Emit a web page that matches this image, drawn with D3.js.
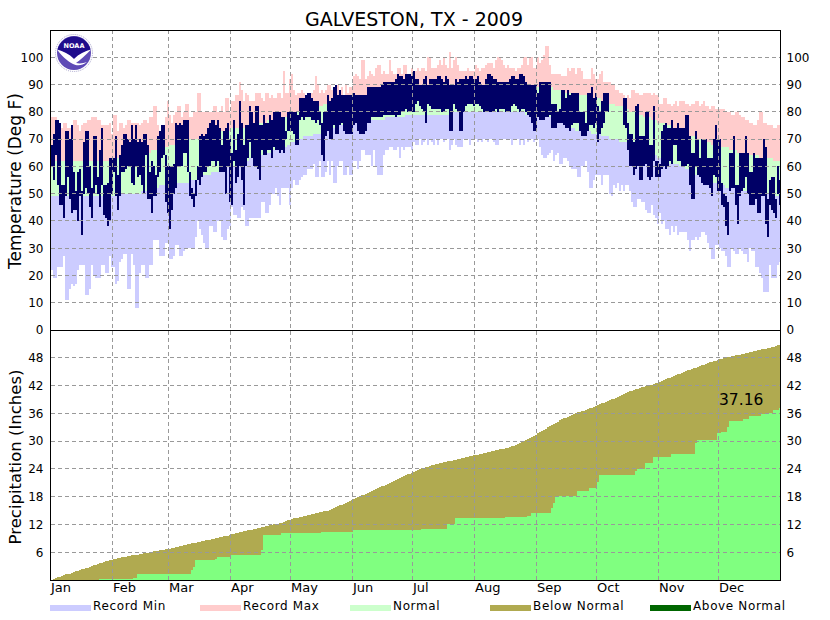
<!DOCTYPE html>
<html>
<head>
<meta charset="utf-8">
<title>Galveston 2009</title>
<style>
body { margin: 0; background: white; }
text { font-family: "DejaVu Sans", sans-serif; fill: #000; }
</style>
</head>
<body>
<script src="https://d3js.org/d3.v7.min.js"></script>
<script>
'use strict'

const monthNames = ["Jan","Feb","Mar","Apr","May","Jun","Jul","Aug","Sep","Oct","Nov","Dec"]
const monthStarts = [0,31,59,90,120,151,181,212,243,273,304,334]
const tempTicks = [0,10,20,30,40,50,60,70,80,90,100]
const precipTicks = [6,12,18,24,30,36,42,48]
const legendNames = ["Record Min","Record Max","Normal","Below Normal","Above Normal"]
const legendColors = ["#ccccff","#ffcccc","#ccffcc","#b0aa50","#006600"]
const legendStarts = [50,200,350,490,650]
const precipTotal = "37.16"

// daily values, one row per month
const recMax = [
  78,78,78,75,74,74,76,76,74,74,75,77,77,75,73,75,76,76,77,77,78,78,78,77,77,75,75,75,75,76,72,
  79,79,73,76,76,74,75,77,77,76,76,76,76,75,76,77,77,76,78,78,82,82,75,73,74,73,78,84,
  79,76,79,80,82,82,78,80,83,83,78,78,80,80,87,87,80,80,80,80,80,80,82,82,80,80,82,80,85,85,80,
  84,84,86,86,91,88,84,87,86,84,84,84,87,87,87,85,84,87,87,85,86,85,85,87,87,85,95,87,87,92,
  94,88,86,87,87,88,87,86,87,86,87,88,93,90,87,88,87,88,90,90,88,86,87,90,88,89,86,90,87,89,89,
  93,94,93,92,99,99,92,93,95,94,93,96,97,97,94,95,94,94,99,95,94,94,96,96,94,97,97,94,94,96,
  95,95,96,95,96,96,95,100,100,96,96,96,97,99,97,100,97,96,102,96,99,100,97,95,95,95,95,96,95,95,95,
  97,96,95,96,96,97,98,98,98,96,99,100,100,99,97,96,97,96,96,96,95,96,96,97,100,100,97,100,100,96,96,
  100,98,99,101,104,104,97,94,94,94,94,94,93,93,93,96,95,96,96,94,96,96,95,92,92,92,92,96,94,92,
  92,94,95,91,91,91,91,90,90,88,88,87,87,86,85,86,85,88,88,87,87,86,86,87,87,87,87,86,87,86,86,
  83,83,85,85,83,83,82,83,84,82,84,84,84,83,83,82,83,83,84,84,82,83,84,82,82,81,82,82,81,81,
  81,81,81,80,80,80,79,79,80,80,79,78,78,77,77,76,76,75,75,77,80,80,76,76,75,75,75,74,74,75,75
]
const recMin = [
  22,19,19,23,23,23,27,11,11,15,17,16,17,22,24,24,24,13,13,15,24,20,19,19,19,24,24,21,21,27,23,
  23,17,18,25,26,28,28,15,15,28,24,8,8,21,24,24,19,19,24,24,33,33,33,27,27,27,32,32,
  26,26,27,31,31,27,27,29,30,30,30,30,30,34,40,37,35,32,30,30,38,38,36,36,40,40,34,33,33,37,38,
  45,42,42,41,41,45,44,38,38,41,41,41,41,41,41,47,47,43,43,46,50,50,52,49,46,52,52,52,52,46,
  52,55,53,53,55,56,57,57,59,59,59,61,56,56,62,56,56,58,62,57,62,54,54,60,62,62,57,57,60,57,57,
  62,62,59,62,66,66,64,64,64,60,66,60,57,57,57,64,66,66,67,67,66,66,67,63,67,66,67,67,67,66,
  69,68,68,70,68,69,70,68,70,69,68,70,68,70,70,69,70,70,66,68,70,68,67,67,67,70,70,70,68,70,70,
  70,69,70,69,70,70,69,70,70,69,68,68,70,70,70,70,70,70,68,70,70,70,68,70,68,70,69,70,70,69,70,
  70,67,64,63,63,64,65,66,62,64,65,61,61,63,63,62,60,59,59,59,56,56,60,60,62,58,52,52,55,57,
  57,57,53,57,57,57,50,49,53,52,54,51,53,51,53,53,51,47,45,45,48,48,47,47,44,43,43,46,42,41,39,
  43,39,40,37,37,35,38,36,38,35,36,36,36,36,33,29,33,33,34,33,34,36,36,35,32,30,26,26,31,31,
  30,29,29,27,23,23,30,29,28,28,30,29,28,28,25,30,29,29,23,23,21,19,14,14,14,24,19,19,19,24,25
]
const normHi = [
  62,62,62,62,62,62,62,62,62,62,62,62,62,62,62,62,62,62,62,62,62,62,62,62,62,62,62,62,62,62,62,
  63,63,63,63,63,63,63,63,63,64,64,64,64,64,64,65,65,65,65,66,66,66,66,66,67,67,67,67,
  68,68,68,68,68,69,69,69,69,69,70,70,70,70,70,70,70,71,71,71,71,72,72,72,72,72,73,73,73,73,73,
  74,74,74,74,74,74,74,75,75,75,75,75,75,76,76,76,76,76,77,77,77,77,77,78,78,78,78,78,78,79,
  79,79,79,80,80,80,80,81,81,81,81,82,82,82,82,82,83,83,83,83,84,84,84,84,84,85,85,85,85,85,85,
  85,85,86,86,86,86,86,86,86,86,86,87,87,87,87,87,87,87,87,87,87,87,88,88,88,88,88,88,88,88,
  88,88,88,88,88,88,88,88,88,88,88,88,88,88,88,89,89,89,89,89,89,89,89,89,89,89,89,89,89,89,89,
  89,89,89,89,89,89,89,89,89,89,89,89,89,89,89,89,89,89,89,89,89,89,89,89,89,89,89,89,89,89,89,
  89,89,89,89,89,89,89,89,88,88,88,88,88,88,87,87,87,87,87,87,86,86,86,86,86,85,85,85,85,85,
  85,85,84,84,84,84,83,83,83,82,82,82,82,81,81,81,80,80,80,80,79,79,79,78,78,78,78,77,77,77,76,
  76,76,76,75,75,75,74,74,74,73,73,73,72,72,72,71,71,71,71,70,70,70,70,69,69,69,68,68,68,68,
  68,67,67,67,67,66,66,66,66,65,65,65,65,65,64,64,64,64,64,64,63,63,63,63,63,63,63,62,62,62,62
]
const normLo = [
  49,49,49,49,49,49,49,49,49,49,49,49,49,49,49,49,49,49,49,49,49,49,49,49,49,49,49,49,49,49,49,
  49,49,49,50,50,50,50,50,50,50,50,50,50,50,51,51,51,51,51,52,52,52,52,53,53,53,53,53,
  54,54,54,54,54,54,54,54,54,54,54,55,55,55,56,56,56,57,57,57,57,58,58,58,58,59,59,59,59,60,60,
  60,60,61,61,61,62,62,62,62,63,63,63,63,64,64,64,64,65,65,65,65,66,66,66,66,67,67,67,68,68,
  69,69,70,70,70,70,71,71,71,71,71,72,72,72,72,72,73,73,73,73,74,74,74,74,75,75,75,75,75,76,76,
  76,76,76,76,76,76,76,76,76,77,77,77,77,77,77,77,78,78,78,78,78,78,78,78,78,78,79,79,79,79,
  79,79,79,79,79,79,79,79,79,79,79,79,79,79,79,79,79,79,79,79,80,80,80,80,80,80,80,80,80,80,80,
  80,80,80,80,80,80,80,80,80,80,80,80,80,80,80,80,80,80,80,80,80,80,80,80,80,79,79,79,79,79,79,
  78,78,78,78,78,78,78,78,77,77,77,76,76,75,75,75,74,74,74,73,73,73,73,73,73,73,73,72,72,72,
  72,72,71,71,71,71,70,70,70,70,70,69,69,69,69,68,68,67,67,67,67,66,66,66,65,65,65,65,64,64,63,
  63,63,62,62,62,61,61,61,61,61,60,60,60,59,59,58,58,58,57,57,57,56,56,55,55,55,54,54,54,54,
  53,53,53,52,52,52,52,52,52,52,51,51,51,51,51,51,51,50,50,50,50,50,50,50,50,49,49,49,49,49,49
]
const obsMax = [
  68,72,77,77,76,53,53,73,73,70,75,58,51,58,59,51,69,73,73,60,52,71,71,56,66,74,53,53,54,63,63,
  63,71,57,64,68,72,72,70,69,75,70,75,69,70,69,72,72,68,58,62,60,57,71,73,75,75,64,60,
  60,60,61,76,75,76,75,77,77,77,58,52,50,55,60,71,72,71,72,74,76,77,77,75,77,74,68,73,74,76,70,
  65,77,66,72,84,76,68,75,75,82,80,76,82,82,75,75,79,76,76,79,77,80,80,80,80,78,78,73,80,80,
  80,80,80,79,85,85,85,86,87,87,85,84,84,84,80,76,80,80,86,84,85,89,90,86,88,86,86,86,86,86,86,
  87,86,86,86,86,86,86,89,89,89,89,89,89,89,90,91,91,91,91,91,91,92,94,93,93,92,94,94,94,93,
  95,92,92,90,90,92,93,90,92,92,92,92,93,93,92,91,93,92,90,90,90,92,91,92,92,92,93,92,93,93,92,
  92,93,91,90,90,92,94,94,93,92,92,91,91,91,91,91,91,92,93,93,92,92,94,94,93,91,90,90,90,90,90,
  87,91,91,91,91,91,91,83,83,83,80,81,88,88,85,88,86,87,87,87,87,80,80,80,76,87,87,89,85,87,
  82,80,84,87,87,87,null,null,null,null,null,null,null,85,85,76,72,72,69,82,83,71,71,71,80,80,68,68,82,62,62,
  61,73,75,76,74,74,77,74,74,76,74,74,74,79,79,71,65,65,73,70,63,70,70,70,63,63,63,70,75,70,
  70,54,50,49,47,65,65,71,53,53,65,65,65,71,65,58,58,65,63,63,63,63,70,67,48,55,56,56,48,60,55
]
const obsMin = [
  60,55,64,53,46,46,41,49,56,48,43,44,44,40,49,35,50,52,50,45,41,50,53,50,45,53,42,41,38,40,50,
  58,49,44,49,58,58,59,60,60,54,53,60,56,57,53,50,64,48,48,43,49,49,56,58,63,64,47,43,
  37,44,50,52,60,60,60,65,65,58,49,48,45,49,55,53,56,58,58,60,60,62,62,60,62,58,58,58,50,60,47,
  46,62,54,56,60,55,46,60,63,69,63,60,60,59,55,66,64,64,66,66,63,67,66,66,65,66,65,70,73,73,
  73,72,68,68,77,78,77,78,78,78,77,77,76,77,75,64,62,71,73,70,70,75,72,72,75,76,73,72,72,72,72,
  75,76,73,72,72,72,73,76,76,78,78,78,78,78,78,79,79,79,79,79,79,78,79,79,80,80,81,80,80,80,
  80,83,84,82,81,80,76,83,82,81,81,81,81,81,80,80,81,81,73,73,83,81,80,73,73,80,82,83,83,83,82,
  83,83,82,81,80,80,80,80,80,80,81,80,81,81,81,80,80,80,82,83,82,81,80,81,81,80,79,78,76,73,73,
  78,77,77,77,78,78,79,74,74,74,76,76,76,75,74,74,73,75,76,76,76,73,71,71,71,73,75,75,74,76,
  69,72,74,76,80,80,null,null,null,null,null,null,null,75,74,66,60,60,57,59,60,55,55,60,61,56,55,56,62,56,56,
  56,59,60,59,60,62,61,68,68,62,62,60,60,60,61,53,48,48,60,57,56,54,53,53,53,52,49,57,56,51,
  51,46,45,38,35,51,52,52,46,39,49,51,52,56,50,46,46,46,48,43,43,49,49,39,34,46,44,43,41,50,46
]
const precipNorm = [
  0.1,0.3,0.4,0.6,0.7,0.9,1.0,1.2,1.3,1.4,1.6,1.7,1.9,2.0,2.2,2.3,2.4,2.6,2.7,2.9,3.0,3.2,3.3,3.4,3.6,3.7,3.9,4.0,4.2,4.3,4.4,
  4.5,4.6,4.7,4.8,4.9,5.0,5.0,5.1,5.2,5.3,5.4,5.4,5.5,5.6,5.7,5.8,5.8,5.9,6.0,6.1,6.2,6.2,6.3,6.4,6.5,6.5,6.6,6.7,
  6.8,6.9,7.0,7.1,7.2,7.3,7.4,7.5,7.6,7.7,7.8,7.9,8.0,8.1,8.2,8.3,8.4,8.5,8.6,8.6,8.7,8.8,8.9,9.0,9.1,9.2,9.3,9.4,9.5,9.6,9.7,
  9.9,10.0,10.1,10.2,10.3,10.4,10.5,10.6,10.7,10.8,10.9,11.0,11.1,11.2,11.3,11.4,11.5,11.6,11.7,11.8,11.9,12.0,12.1,12.2,12.3,12.4,12.6,12.7,12.9,13.0,
  13.2,13.3,13.4,13.5,13.6,13.7,13.8,13.9,14.0,14.1,14.2,14.3,14.4,14.5,14.6,14.7,14.8,14.9,15.0,15.1,15.3,15.5,15.7,15.9,16.1,16.3,16.5,16.7,16.9,17.1,17.3,
  17.6,17.8,18.0,18.1,18.3,18.4,18.6,18.8,19.0,19.2,19.4,19.6,19.8,20.0,20.2,20.4,20.6,20.8,21.0,21.2,21.4,21.6,21.8,22.0,22.2,22.4,22.6,22.8,23.0,23.2,
  23.4,23.6,23.8,24.0,24.1,24.3,24.4,24.5,24.6,24.8,24.9,25.0,25.1,25.2,25.3,25.4,25.5,25.6,25.7,25.8,25.9,26.0,26.1,26.2,26.3,26.4,26.5,26.6,26.7,26.8,26.9,
  27.0,27.1,27.2,27.3,27.4,27.5,27.6,27.7,27.8,27.9,28.0,28.1,28.2,28.3,28.4,28.5,28.6,28.7,28.9,29.0,29.2,29.4,29.6,29.8,30.0,30.2,30.4,30.6,30.8,31.1,31.4,
  31.7,32.0,32.2,32.5,32.7,33.0,33.2,33.5,33.7,34.0,34.2,34.5,34.7,34.9,35.1,35.3,35.5,35.7,35.8,36.0,36.2,36.3,36.5,36.6,36.8,36.9,37.1,37.2,37.4,37.6,
  37.8,38.0,38.2,38.3,38.5,38.7,38.8,39.0,39.2,39.4,39.6,39.8,40.0,40.2,40.4,40.6,40.8,40.9,41.0,41.2,41.3,41.4,41.6,41.7,41.8,42.0,42.1,42.2,42.4,42.5,42.6,
  42.8,43.0,43.2,43.4,43.6,43.7,43.9,44.1,44.2,44.4,44.6,44.8,45.0,45.1,45.3,45.4,45.6,45.8,45.9,46.1,46.2,46.4,46.5,46.7,46.8,47.0,47.1,47.2,47.4,47.5,
  47.7,47.8,47.9,48.0,48.1,48.2,48.3,48.4,48.5,48.6,48.7,48.8,48.9,49.0,49.1,49.2,49.3,49.4,49.5,49.6,49.7,49.8,49.9,50.0,50.1,50.2,50.3,50.4,50.5,50.7,50.8
]
const precipObs = [
  0,0,0,0,0,0,0,0,0,0,0,0,0,0,0,0,0,0,0,0,0,0,0,0,0.2,0.2,0.2,0.2,0.2,0.2,0.2,
  0.2,0.2,0.2,0.2,0.2,0.2,0.2,0.2,0.2,0.2,0.35,0.35,1.3,1.3,1.3,1.3,1.3,1.3,1.3,1.3,1.3,1.3,1.3,1.3,1.3,1.3,1.3,1.3,
  1.3,1.3,1.3,1.3,1.3,1.3,1.3,1.3,1.3,1.3,1.3,2.2,2.9,4.3,4.3,4.3,4.3,4.3,4.3,4.3,4.3,4.3,4.3,4.5,5.0,5.0,5.0,5.0,5.0,5.0,5.0,
  5.4,5.4,5.4,5.4,5.4,5.4,5.4,5.4,5.4,5.4,5.4,5.4,5.4,5.4,5.4,6.5,9.7,9.7,9.7,9.7,9.7,9.7,9.7,9.7,9.7,10.1,10.1,10.1,10.1,10.1,
  10.1,10.1,10.1,10.1,10.1,10.1,10.1,10.1,10.1,10.1,10.1,10.1,10.1,10.1,10.1,10.4,10.4,10.4,10.4,10.4,10.4,10.4,10.4,10.4,10.4,10.4,10.4,10.4,10.4,10.4,10.4,
  10.8,10.8,10.8,10.8,10.8,10.8,10.8,10.8,10.8,10.8,10.8,10.8,10.8,10.8,10.8,10.8,10.8,10.8,10.8,10.8,10.8,10.8,10.8,10.8,10.8,10.8,10.8,10.8,10.8,10.8,
  10.8,10.8,10.8,10.8,11.0,11.0,11.0,11.0,11.0,11.0,11.0,11.0,11.0,11.0,11.0,11.0,11.0,12.0,12.0,12.0,12.0,13.3,13.3,13.3,13.3,13.3,13.3,13.3,13.3,13.3,13.3,
  13.3,13.3,13.3,13.3,13.3,13.3,13.3,13.3,13.3,13.3,13.3,13.3,13.3,13.3,13.3,13.6,13.6,13.6,13.6,13.6,13.6,13.6,13.6,13.6,13.6,13.6,13.75,13.75,14.5,14.5,14.5,
  14.5,14.5,14.5,14.5,14.5,14.5,14.5,15.5,16.6,18.1,18.1,18.1,18.1,18.1,18.1,18.1,18.1,18.1,18.1,18.1,19.2,19.2,19.2,19.2,19.2,19.2,19.9,19.9,19.9,19.9,
  21.2,22.7,22.7,22.7,22.7,22.7,22.7,22.7,22.7,22.7,22.7,22.7,22.7,22.7,22.7,22.7,22.7,22.7,22.7,23.6,24,24,24,24,25.2,25.2,25.2,25.2,26.6,26.6,26.6,
  26.6,26.6,26.6,26.6,26.6,26.6,27.2,27.2,27.2,27.2,27.2,27.2,27.2,27.2,27.2,27.2,27.2,27.2,29.7,30.2,30.2,30.2,30.2,30.2,30.2,30.2,30.2,30.2,30.2,31.7,
  31.7,32,32,32,33.1,34.3,34.3,34.3,34.3,34.3,34.3,34.3,34.7,34.7,34.7,35.4,35.4,35.4,35.4,35.4,35.4,35.8,35.8,35.8,36,36,36,36.7,36.7,36.7,37.16
]

const width = 830
const height = 620
const left = 50.5
const right = 780.5
const tempTop = 30
const midLine = 330
const bottom = 580

const svg = d3.select("body").append("svg")
  .attr("width", width)
  .attr("height", height)
  .style("display", "block")

const x = d3.scaleLinear().domain([0, 365]).range([left, right])
const yTemp = d3.scaleLinear().domain([0, 110]).range([midLine, tempTop])
const yPrecip = d3.scaleLinear().domain([0, 54]).range([bottom, midLine])

const days = d3.range(365)

// stacked per-day bars, low value to high value
function bars(lowFn, highFn, yScale, color) {
  svg.append("g")
    .attr("shape-rendering", "crispEdges")
    .selectAll("rect")
    .data(days.filter(d => highFn(d) !== null && highFn(d) > lowFn(d)))
    .enter()
    .append("rect")
    .attr("x", d => x(d))
    .attr("width", d => x(d + 1) - x(d))
    .attr("y", d => yScale(highFn(d)))
    .attr("height", d => yScale(lowFn(d)) - yScale(highFn(d)))
    .attr("fill", color)
}

bars(d => recMin[d], d => normLo[d], yTemp, "#ccccff")
bars(d => normLo[d], d => normHi[d], yTemp, "#ccffcc")
bars(d => normHi[d], d => recMax[d], yTemp, "#ffcccc")
bars(d => obsMin[d], d => obsMax[d], yTemp, "#000066")

bars(d => 0, d => precipNorm[d], yPrecip, "#b0aa50")
bars(d => 0, d => precipObs[d], yPrecip, "#80ff80")

// grid goes over the bars
const grid = svg.append("g")
  .attr("stroke", "#999")
  .attr("stroke-dasharray", "4,3")
  .attr("fill", "none")
  .attr("shape-rendering", "crispEdges")

grid.selectAll("line.v")
  .data(monthStarts.slice(1))
  .enter().append("line")
  .attr("class", "v")
  .attr("x1", d => x(d)).attr("x2", d => x(d))
  .attr("y1", tempTop).attr("y2", bottom)

grid.selectAll("line.t")
  .data(tempTicks.slice(1))
  .enter().append("line")
  .attr("class", "t")
  .attr("x1", left).attr("x2", right)
  .attr("y1", d => Math.floor(yTemp(d)) + 0.5).attr("y2", d => Math.floor(yTemp(d)) + 0.5)

grid.selectAll("line.p")
  .data(precipTicks)
  .enter().append("line")
  .attr("class", "p")
  .attr("x1", left).attr("x2", right)
  .attr("y1", d => Math.floor(yPrecip(d)) + 0.5).attr("y2", d => Math.floor(yPrecip(d)) + 0.5)

// axes, tick marks hidden since the frame has none
function styleAxis(g, size) {
  g.selectAll(".domain").remove()
  g.selectAll(".tick line").remove()
  g.selectAll("text").attr("font-size", size).attr("font-family", '"DejaVu Sans", sans-serif')
}

svg.append("g")
  .attr("transform", `translate(${left},0)`)
  .call(d3.axisLeft(yTemp).tickValues(tempTicks).tickSize(0).tickPadding(7))
  .call(styleAxis, 12)

svg.append("g")
  .attr("transform", `translate(${right},0)`)
  .call(d3.axisRight(yTemp).tickValues(tempTicks).tickSize(0).tickPadding(6))
  .call(styleAxis, 12)

svg.append("g")
  .attr("transform", `translate(${left},0)`)
  .call(d3.axisLeft(yPrecip).tickValues(precipTicks).tickSize(0).tickPadding(7))
  .call(styleAxis, 12)

svg.append("g")
  .attr("transform", `translate(${right},0)`)
  .call(d3.axisRight(yPrecip).tickValues(precipTicks).tickSize(0).tickPadding(6))
  .call(styleAxis, 12)

svg.append("g")
  .attr("transform", `translate(0,${bottom})`)
  .call(d3.axisBottom(x).tickValues(monthStarts).tickSize(0).tickPadding(3)
    .tickFormat((d, i) => monthNames[i]))
  .call(styleAxis, 13)
  .selectAll("text").attr("text-anchor", "start")

// frame
svg.append("rect")
  .attr("x", left).attr("y", tempTop + 0.5)
  .attr("width", right - left).attr("height", bottom - tempTop)
  .attr("fill", "none").attr("stroke", "#000")
  .attr("shape-rendering", "crispEdges")
svg.append("line")
  .attr("x1", left).attr("x2", right)
  .attr("y1", midLine + 0.5).attr("y2", midLine + 0.5)
  .attr("stroke", "#000")
  .attr("shape-rendering", "crispEdges")

// titles
svg.append("text")
  .attr("x", 414).attr("y", 26)
  .attr("text-anchor", "middle").attr("font-size", 19)
  .text("GALVESTON, TX - 2009")

svg.append("text")
  .attr("transform", "translate(21,181) rotate(-90)")
  .attr("text-anchor", "middle").attr("font-size", 17)
  .text("Temperature (Deg F)")

svg.append("text")
  .attr("transform", "translate(21,457) rotate(-90)")
  .attr("text-anchor", "middle").attr("font-size", 16.5)
  .text("Precipitation (Inches)")

svg.append("text")
  .attr("x", 719).attr("y", 405).attr("font-size", 15.5)
  .text(precipTotal)

// legend
const legend = svg.selectAll("g.legend")
  .data(legendNames)
  .enter().append("g")
  .attr("class", "legend")
  .attr("transform", (d, i) => `translate(${legendStarts[i]},605)`)
legend.append("rect")
  .attr("width", 41).attr("height", 6)
  .attr("fill", (d, i) => legendColors[i])
legend.append("text")
  .attr("x", 43).attr("y", 5).attr("font-size", 12)
  .attr("letter-spacing", 0.65)
  .text(d => d)

// noaa logo, top left of the temperature panel
const logo = svg.append("g").attr("transform", "translate(74,53)")
logo.append("circle").attr("r", 18.5).attr("fill", "#fff").attr("stroke", "#a8a4cc").attr("stroke-dasharray", "1,1")
logo.append("circle").attr("r", 17).attr("fill", "#5e4ab6")
logo.append("path")
  .attr("d", "M-16.5,-3.5 A17,17 0 0 1 16.5,-3.5 C11,-2 5,1 0,6 C-5,1 -11,-2 -16.5,-3.5 Z")
  .attr("fill", "#1f0d8c")
logo.append("path")
  .attr("d", "M-17,-3.5 C-11,-2 -5,1 0,6 C5,1 11,-2 17,-3.5 C12,2 6,7 2,10 C6,11 10,10 13,9 C8,13 3,13 -1,11 C-7,8 -13,2 -17,-3.5 Z")
  .attr("fill", "#fff")
logo.append("text")
  .attr("y", -5).attr("text-anchor", "middle").attr("font-size", 6.5).attr("font-weight", "bold")
  .style("fill", "#fff")
  .text("NOAA")
</script>
</body>
</html>
